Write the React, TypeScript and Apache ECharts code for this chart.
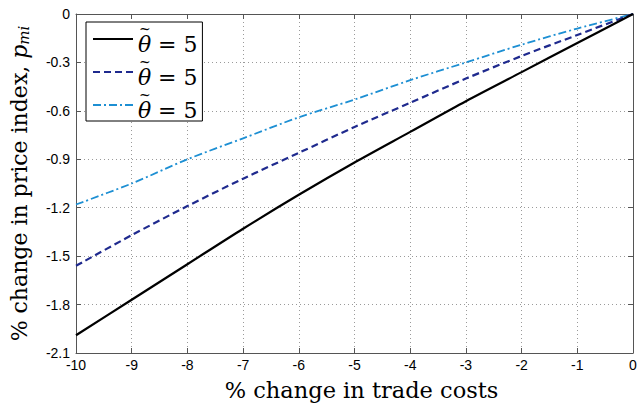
import React, { useEffect, useRef } from "react";
import * as echarts from "echarts";

const xValues = [-10, -9, -8, -7, -6, -5, -4, -3, -2, -1, 0];
const seriesA = [-1.99, -1.77, -1.55, -1.33, -1.12, -0.92, -0.73, -0.54, -0.36, -0.18, 0];
const seriesB = [-1.56, -1.37, -1.19, -1.02, -0.86, -0.70, -0.55, -0.40, -0.26, -0.13, 0];
const seriesC = [-1.18, -1.05, -0.90, -0.77, -0.64, -0.53, -0.41, -0.30, -0.19, -0.09, 0];
const legendSymbols = ["θ", "θ", "θ"];
const legendValues = ["= 5", "= 5", "= 5"];
const seriesKeys = ["s1", "s2", "s3"];

const serif = "'DejaVu Serif', 'Liberation Serif', serif";
const sans = "'Liberation Sans', Arial, sans-serif";

export default function App() {
  const ref = useRef<HTMLDivElement>(null);
  useEffect(() => {
    if (!ref.current) return;
    const chart = echarts.init(ref.current, undefined, { renderer: "svg" });
    const toPts = (arr: number[]) => xValues.map((x, i) => [x, arr[i]]);
    const gridLine = { show: true, lineStyle: { color: "#9a9a9a", type: [1, 3] as any, width: 1 } };
    const axisLine = { show: true, onZero: false, lineStyle: { color: "#555", width: 1 } };
    const tick = { show: true, inside: true, length: 5, lineStyle: { color: "#555" } };
    chart.setOption({
      animation: false,
      backgroundColor: "#fff",
      grid: { left: 75, right: 7, top: 14, bottom: 49, containLabel: false },
      legend: {
        orient: "vertical",
        left: 86,
        top: 22,
        padding: [0, 5, 0, 6],
        itemGap: 0,
        itemWidth: 40,
        itemHeight: 14,
        borderColor: "#000",
        borderWidth: 1,
        borderRadius: 0,
        backgroundColor: "#fff",
        itemStyle: { opacity: 0 },
        data: seriesKeys,
        formatter: (name: string) => {
          const i = seriesKeys.indexOf(name);
          return `{tl|~}\n{th|${legendSymbols[i]}}{t| ${legendValues[i]}}`;
        },
        textStyle: {
          rich: {
            tl: {
              fontFamily: serif,
              fontSize: 14,
              color: "#000",
              height: 10,
              lineHeight: 10,
              padding: [0, 0, 0, 1],
            },
            th: {
              fontFamily: serif,
              fontSize: 22,
              fontStyle: "italic",
              color: "#000",
              height: 20,
              lineHeight: 20,
              width: 13,
            },
            t: {
              fontFamily: serif,
              fontSize: 22,
              color: "#000",
              height: 20,
              lineHeight: 20,
              width: 44,
            },
          },
        },
      },
      xAxis: [
        {
          type: "value",
          min: -10,
          max: 0,
          interval: 1,
          position: "bottom",
          axisLine,
          axisTick: tick,
          splitLine: gridLine,
          axisLabel: { color: "#000", fontFamily: sans, fontSize: 14, margin: 5 },
          name: "% change in trade costs",
          nameLocation: "middle",
          nameGap: 25,
          nameTextStyle: { fontFamily: serif, fontSize: 22.5, color: "#000", padding: [0, 0, 0, 14] },
        },
        {
          type: "value",
          min: -10,
          max: 0,
          interval: 1,
          position: "top",
          axisLine,
          axisTick: tick,
          splitLine: { show: false },
          axisLabel: { show: false },
        },
      ],
      yAxis: [
        {
          type: "value",
          min: -2.1,
          max: 0,
          interval: 0.3,
          position: "left",
          axisLine,
          axisTick: tick,
          splitLine: gridLine,
          axisLabel: {
            color: "#000",
            fontFamily: sans,
            fontSize: 14,
            margin: 6,
            formatter: (v: number) => (Math.abs(v) < 1e-9 ? "0" : v.toFixed(1)),
          },
          name: "% change in price index, {i|p}{s|mi}",
          nameLocation: "middle",
          nameGap: 45,
          nameTextStyle: {
            fontFamily: serif,
            fontSize: 22,
            color: "#000",
            rich: {
              i: { fontFamily: serif, fontSize: 22, fontStyle: "italic", color: "#000" },
              s: { fontFamily: serif, fontSize: 15, fontStyle: "italic", color: "#000", padding: [9, 0, 0, 0] },
            },
          },
        },
        {
          type: "value",
          min: -2.1,
          max: 0,
          interval: 0.3,
          position: "right",
          axisLine,
          axisTick: tick,
          splitLine: { show: false },
          axisLabel: { show: false },
        },
      ],
      series: [
        {
          name: "s1",
          type: "line",
          data: toPts(seriesA),
          showSymbol: false,
          symbol: "none",
          smooth: 0.3,
          color: "#000000",
          lineStyle: { color: "#000000", width: 2.2, type: "solid" },
          z: 5,
        },
        {
          name: "s2",
          type: "line",
          data: toPts(seriesB),
          showSymbol: false,
          symbol: "none",
          smooth: 0.3,
          color: "#1f2a8e",
          lineStyle: { color: "#1f2a8e", width: 2.2, type: [7, 4] },
          z: 4,
        },
        {
          name: "s3",
          type: "line",
          data: toPts(seriesC),
          showSymbol: false,
          symbol: "none",
          smooth: 0.3,
          color: "#1d8fd3",
          lineStyle: { color: "#1d8fd3", width: 1.8, type: [8, 3, 2, 3] },
          z: 3,
        },
      ],
    });
    return () => chart.dispose();
  }, []);
  return <div ref={ref} style={{ width: 640, height: 406, position: "absolute", left: 0, top: 0 }} />;
}
